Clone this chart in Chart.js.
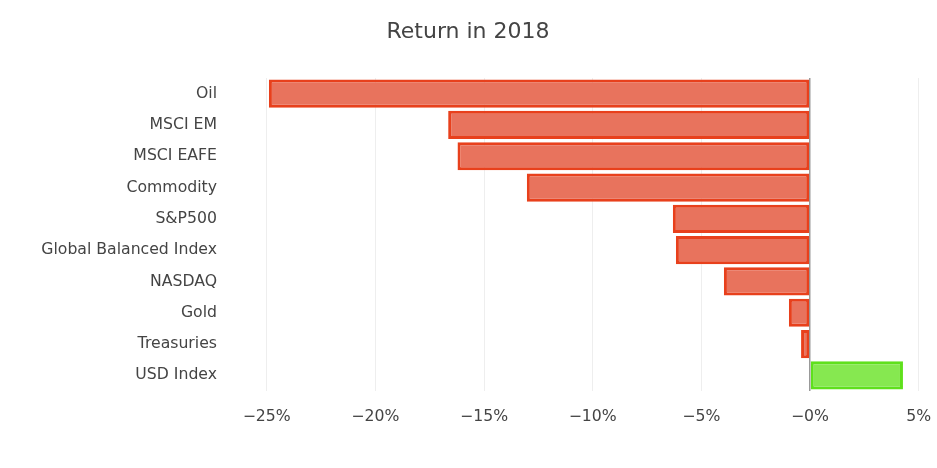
<!DOCTYPE html>
<html>
<head>
<meta charset="utf-8">
<title>Return in 2018</title>
<script src="https://cdn.jsdelivr.net/npm/chart.js@4"></script>
<style>
  html, body { margin: 0; padding: 0; background: #fff; }
  #wrap { width: 937px; height: 468px; }
</style>
</head>
<body>
<div id="wrap"><canvas id="returnChart" width="937" height="468"></canvas></div>
<script>
// Data
const assets = ['Oil', 'MSCI EM', 'MSCI EAFE', 'Commodity', 'S&P500',
  'Global Balanced Index', 'NASDAQ', 'Gold', 'Treasuries', 'USD Index'];
const returns = [-24.9, -16.65, -16.22, -13.03, -6.31, -6.17, -3.96, -0.97, -0.41, 4.28];
const xTicks = [-25, -20, -15, -10, -5, 0, 5];
const xTickLabels = ['\u221225%', '\u221220%', '\u221215%', '\u221210%', '\u22125%', '\u22120%', '5%'];

const FONT = '"DejaVu Sans", Verdana, sans-serif';

document.addEventListener('DOMContentLoaded', function() {
  const ctx = document.getElementById('returnChart');

  new Chart(ctx, {
    type: 'bar',
    data: {
      labels: assets,
      datasets: [{
        data: returns,
        backgroundColor: returns.map(v => v < 0 ? 'rgba(231, 108, 84, 0.95)' : 'rgba(134, 232, 80, 1)'),
        borderColor: returns.map(v => v < 0 ? '#e8401c' : '#5fe01c'),
        borderWidth: 3,
        borderSkipped: false,
        categoryPercentage: 1,
        barPercentage: 0.9
      }]
    },
    options: {
      indexAxis: 'y',
      responsive: false,
      animation: false,
      layout: { padding: { left: 0, right: 1, top: 0, bottom: 0 } },
      plugins: {
        legend: { display: false },
        tooltip: { enabled: false },
        title: {
          display: true,
          text: 'Return in 2018',
          color: '#444',
          font: { family: FONT, size: 22, weight: 'normal' },
          padding: { top: 19, bottom: 32.6 }
        }
      },
      scales: {
        x: {
          min: -26,
          max: 5.8,
          afterBuildTicks: scale => {
            scale.ticks = xTicks.map(v => ({ value: v }));
          },
          afterFit: scale => {
            scale.height = 77;
            scale.paddingLeft = 0;
            scale.paddingRight = 0;
          },
          border: { display: false },
          grid: {
            drawTicks: false,
            color: c => (c.tick && c.tick.value === 0) ? '#999999' : '#eeeeee',
            lineWidth: c => (c.tick && c.tick.value === 0) ? 1.5 : 1
          },
          ticks: {
            padding: 17,
            color: '#444',
            maxRotation: 0,
            font: { family: FONT, size: 15.7 },
            callback: value => {
              const i = xTicks.indexOf(value);
              return i >= 0 ? xTickLabels[i] : '';
            }
          }
        },
        y: {
          afterFit: scale => { scale.width = 245; },
          border: { display: false },
          grid: { display: false, drawTicks: false },
          ticks: {
            padding: 28,
            color: '#444',
            font: { family: FONT, size: 15.7 }
          }
        }
      }
    }
  });
});
</script>
</body>
</html>
